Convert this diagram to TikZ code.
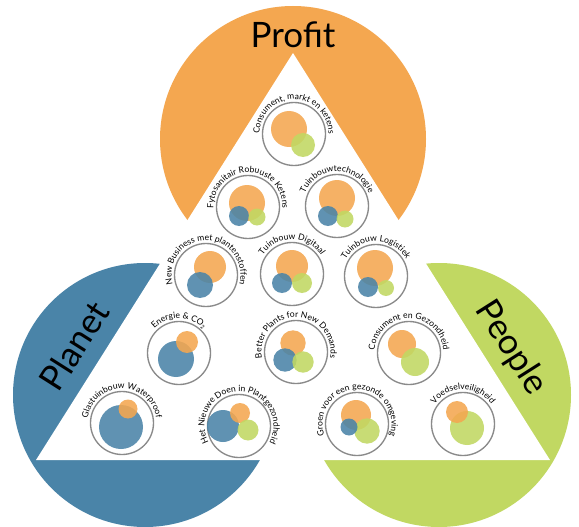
\documentclass[tikz,border=0pt]{standalone}
\usepackage{fontspec}
\setmainfont{Lato}
\usetikzlibrary{decorations.text}
\definecolor{cOrange}{HTML}{F4A750}
\definecolor{cBlue}{HTML}{4A84A8}
\definecolor{cGreen}{HTML}{C1D862}
\definecolor{cRing}{HTML}{8A8A8A}
\newcommand\lblfont{\fontsize{8.6}{9}\selectfont}
\newcommand\subtwo{\raisebox{-1.6pt}{\fontsize{5.5}{6}\selectfont 2}}
\newcommand\topic[4]{%
  \coordinate (#1) at (#2,#3);
  \draw[ringline] (#1) circle[radius=31.5];
  \path[decorate, decoration={text along path, text align=center, text={|\lblfont|#4}}]
    (#1) ++(240:34.5pt) arc[start angle=240, end angle=-60, radius=34.5pt];
}
\newcommand\blob[4]{\fill[#1, fill opacity=.88] (#2,#3) circle[radius=#4];}
\begin{document}
\begin{tikzpicture}[x=1pt,y=-1pt,
  ringline/.style={draw=cRing, line width=1.35pt},
  bigword/.style={font=\fontsize{35}{35}\selectfont, text=black, inner sep=0pt}]
\useasboundingbox (0,0) rectangle (579,527);
\fill[white] (0,0) rectangle (579,527);
% three big discs
\fill[cOrange] (293,139) circle[radius=133];
\fill[cBlue] (145,395) circle[radius=132];
\fill[cGreen] (439,395) circle[radius=132];
% white triangle
\fill[white] (293,53) -- (36,460) -- (550,460) -- cycle;
% titles
\node[bigword] (profit) at (293,35) {Profit};
\node[bigword, rotate=57.6] (planet) at (74,346) {Planet};
\node[bigword, rotate=-57.6] (people) at (511,348) {People};
% topics
\topic{cmk}{294}{134}{Consument, markt en ketens}
\blob{cOrange}{289}{129}{18}\blob{cGreen}{303}{145}{12}
\topic{fyt}{248}{207}{Fytosanitair Robuuste Ketens}
\blob{cOrange}{247}{203}{18}\blob{cBlue}{239}{216}{10}\blob{cGreen}{257}{217}{8.5}
\topic{tbt}{337}{206}{Tuinbouwtechnologie}
\blob{cOrange}{337}{198}{18}\blob{cBlue}{328}{216}{10}\blob{cGreen}{345}{219}{8.5}
\topic{nbp}{206}{275}{New Business met plantenstoffen}
\blob{cOrange}{210}{267}{16}\blob{cBlue}{200}{285}{13}
\topic{tbd}{292}{274}{Tuinbouw Digitaal}
\blob{cOrange}{292}{266}{16}\blob{cBlue}{282}{283}{10}\blob{cGreen}{302}{283}{10}
\topic{tbl}{376}{276}{Tuinbouw Logistiek}
\blob{cOrange}{375}{268}{18}\blob{cBlue}{368}{287}{10}\blob{cGreen}{386}{288}{8}
\topic{eco}{179}{353}{Energie {\&} CO{\subtwo}}
\blob{cBlue}{176}{359}{18}\blob{cOrange}{187}{342}{11}
\topic{bpn}{296}{352}{Better Plants for New Demands}
\blob{cOrange}{293}{343}{12.7}\blob{cBlue}{285}{360}{11.7}\blob{cGreen}{303}{362}{10.7}
\topic{ceg}{409}{353}{Consument en Gezondheid}
\blob{cOrange}{402}{344}{14}\blob{cGreen}{415}{362}{14}
\topic{gww}{122}{423}{Glastuinbouw Waterproof}
\blob{cBlue}{121}{427}{22}\blob{cOrange}{128}{409}{9.5}
\topic{hnd}{239}{426}{Het Nieuwe Doen in Plantgezondheid}
\blob{cBlue}{223}{426}{16}\blob{cOrange}{240}{413}{10}\blob{cGreen}{248}{430}{10.5}
\topic{gvg}{357}{424}{Groen voor een gezonde omgeving}
\blob{cOrange}{356}{415}{15}\blob{cGreen}{367}{431}{12.7}\blob{cBlue}{349}{427}{8.5}
\topic{vdv}{463}{424}{Voedselveiligheid}
\blob{cGreen}{467}{428}{17}\blob{cOrange}{457}{412}{11}
\end{tikzpicture}
\end{document}
